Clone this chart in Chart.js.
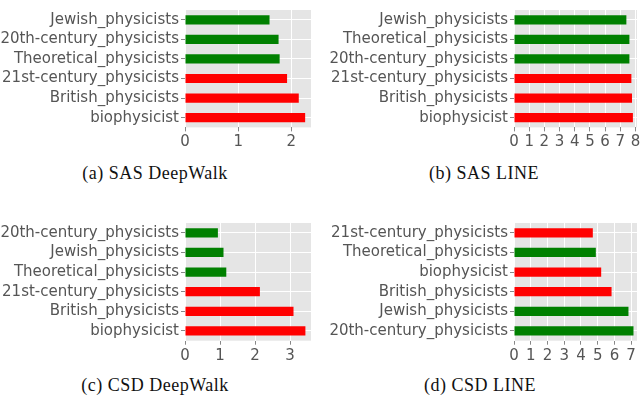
<!DOCTYPE html>
<html>
<head>
<meta charset="utf-8">
<script src="https://cdn.jsdelivr.net/npm/chart.js@4"></script>
<style>
  body { margin: 0; width: 640px; height: 395px; overflow: hidden; background: #fff; position: relative; }
  .panel { position: absolute; }
  .caption { position: absolute; width: 240px; text-align: center; font-family: "Liberation Serif", serif; font-size: 18px; letter-spacing: 0.5px; color: #111; line-height: 20px; }
</style>
</head>
<body>
<div class="panel" style="left:0px; top:-1px; width:320px; height:160px;"><canvas id="chartA"></canvas></div>
<div class="panel" style="left:320px; top:-1px; width:325px; height:160px;"><canvas id="chartB"></canvas></div>
<div class="panel" style="left:0px; top:212px; width:320px; height:160px;"><canvas id="chartC"></canvas></div>
<div class="panel" style="left:320px; top:212px; width:325px; height:160px;"><canvas id="chartD"></canvas></div>
<div class="caption" style="left:35px; top:163px;">(a) SAS DeepWalk</div>
<div class="caption" style="left:364px; top:163px;">(b) SAS LINE</div>
<div class="caption" style="left:35px; top:375px;">(c) CSD DeepWalk</div>
<div class="caption" style="left:360px; top:375px;">(d) CSD LINE</div>
<script>
// categories (top to bottom) and values for each panel
var sasDeepWalkLabels = ["Jewish_physicists", "20th-century_physicists", "Theoretical_physicists", "21st-century_physicists", "British_physicists", "biophysicist"];
var sasDeepWalkValues = [1.59, 1.76, 1.78, 1.92, 2.14, 2.26];

var sasLineLabels = ["Jewish_physicists", "Theoretical_physicists", "20th-century_physicists", "21st-century_physicists", "British_physicists", "biophysicist"];
var sasLineValues = [7.40, 7.60, 7.60, 7.73, 7.77, 7.83];

var csdDeepWalkLabels = ["20th-century_physicists", "Jewish_physicists", "Theoretical_physicists", "21st-century_physicists", "British_physicists", "biophysicist"];
var csdDeepWalkValues = [0.94, 1.10, 1.18, 2.14, 3.10, 3.44];

var csdLineLabels = ["21st-century_physicists", "Theoretical_physicists", "biophysicist", "British_physicists", "Jewish_physicists", "20th-century_physicists"];
var csdLineValues = [4.71, 4.89, 5.21, 5.83, 6.84, 7.14];

// categories drawn in red, the rest in green
var redCategories = ["biophysicist", "British_physicists", "21st-century_physicists"];

var plotBackground = {
  id: 'plotBackground',
  beforeDraw: function(chart) {
    var a = chart.chartArea;
    var ctx = chart.ctx;
    ctx.save();
    ctx.fillStyle = '#E5E5E5';
    ctx.fillRect(a.left, a.top, a.right - a.left, a.bottom - a.top);
    ctx.restore();
  }
};

function physicistGraph(id, labels, values, xMax, axisWidth, axisHeight, padRight) {
  var colors = labels.map(function(l) {
    return redCategories.indexOf(l) >= 0 ? '#FF0000' : '#008000';
  });
  var ctx = document.getElementById(id).getContext('2d');
  var myChart = new Chart(ctx, {
    type: 'bar',
    data: {
      labels: labels,
      datasets: [{
        data: values,
        backgroundColor: colors,
        barPercentage: 0.47,
        categoryPercentage: 1
      }]
    },
    options: {
      indexAxis: 'y',
      responsive: true,
      maintainAspectRatio: false,
      animation: false,
      layout: { padding: { left: 0, top: 0, bottom: 0, right: padRight } },
      plugins: { legend: { display: false }, tooltip: { enabled: false } },
      scales: {
        x: {
          min: 0,
          max: xMax,
          afterFit: function(s) { s.height = axisHeight; },
          afterBuildTicks: function(s) {
            s.ticks = s.ticks.filter(function(t) { return Number.isInteger(t.value); });
          },
          border: { display: false },
          grid: { color: '#FFFFFF', lineWidth: 1, tickColor: '#888', tickLength: 4 },
          ticks: { stepSize: 1, includeBounds: false, autoSkip: false, maxRotation: 0, minRotation: 0,
                   padding: 2, color: '#555', font: { family: 'DejaVu Sans', size: 15 } }
        },
        y: {
          afterFit: function(s) { s.width = axisWidth; },
          border: { display: false },
          grid: { offset: false, color: '#FFFFFF', lineWidth: 1, tickColor: '#888', tickLength: 4 },
          ticks: { autoSkip: false, padding: 2, color: '#555', font: { family: 'DejaVu Sans', size: 15 } }
        }
      }
    },
    plugins: [plotBackground]
  });
};

physicistGraph("chartA", sasDeepWalkLabels, sasDeepWalkValues, 2.37, 185, 31.6, 9);
physicistGraph("chartB", sasLineLabels, sasLineValues, 8.1, 194, 31.6, 8);
physicistGraph("chartC", csdDeepWalkLabels, csdDeepWalkValues, 3.6, 185, 31.3, 9);
physicistGraph("chartD", csdLineLabels, csdLineValues, 7.35, 194, 31.3, 8);
</script>
</body>
</html>
